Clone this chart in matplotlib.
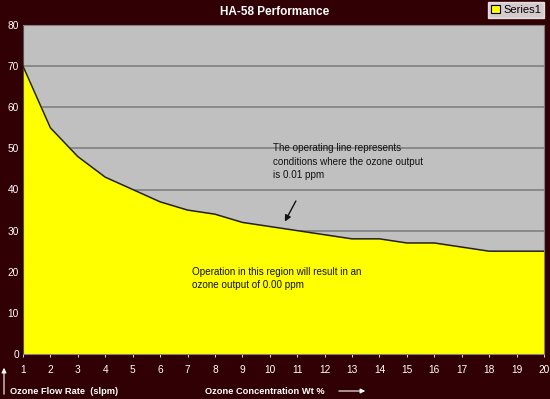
import matplotlib
matplotlib.use("Agg")
from matplotlib import pyplot as plt
from matplotlib.patches import Patch

# data
conc = list(range(1, 21))
flow = [70, 55, 48, 43, 40, 37, 35, 34, 32, 31,
        30, 29, 28, 28, 27, 27, 26, 25, 25, 25]
yticks = [0, 10, 20, 30, 40, 50, 60, 70, 80]

bg = '#310004'
plt.rcParams['font.family'] = ['Liberation Sans', 'DejaVu Sans']

fig = plt.figure(figsize=(5.5, 3.99), dpi=100, facecolor=bg)
ax = fig.add_axes([23/550, 1 - 354/399, (544-23)/550, (354-25)/399])
ax.set_facecolor('#c0c0c0')

ax.fill_between(conc, flow, 0, color='#ffff00', zorder=2)
ax.plot(conc, flow, color='#202020', lw=1.1, zorder=3)

ax.set_xlim(1, 20)
ax.set_ylim(0, 80)
ax.set_xticks(conc)
ax.set_yticks(yticks)
ax.tick_params(colors='white', labelsize=7.3, length=2, width=0.6)
ax.tick_params(axis='y', length=0, pad=3)
ax.tick_params(axis='x', pad=6)
ax.grid(axis='y', color='#808080', lw=1.2, zorder=1)
ax.set_axisbelow(True)
for s in ax.spines.values():
    s.set_color('#808080')
    s.set_linewidth(0.8)
ax.spines['top'].set_linestyle(':')
ax.spines['left'].set_color('#505050')

fig.text(0.5, 1 - 12/399, 'HA-58 Performance', color='white', fontsize=8.5,
         fontweight='bold', ha='center', va='center')

leg = fig.legend(handles=[Patch(facecolor='#ffff00', edgecolor='black', lw=0.8, label='Series1')],
                 loc='upper right', bbox_to_anchor=(544/550, 1 - 2/399), fontsize=8,
                 frameon=True, fancybox=False, handlelength=0.8, handleheight=0.8,
                 handletextpad=0.3, borderpad=0.25, borderaxespad=0)
leg.get_frame().set_facecolor('white')
leg.get_frame().set_edgecolor('white')

ax.text(10.1, 51.2, 'The operating line represents\nconditions where the ozone output\nis 0.01 ppm',
        fontsize=7.1, color='#111111', va='top', ha='left', linespacing=1.4, zorder=4)
ax.annotate('', xy=(10.5, 31.6), xytext=(11.0, 37.8),
            arrowprops=dict(arrowstyle='-|>', color='#111111', lw=1, mutation_scale=9), zorder=4)
ax.text(7.15, 21.2, 'Operation in this region will result in an\nozone output of 0.00 ppm',
        fontsize=7.1, color='#111111', va='top', ha='left', linespacing=1.4, zorder=4)

fig.text(10/550, 1 - 392/399, 'Ozone Flow Rate  (slpm)', color='white', fontsize=6.7,
         fontweight='bold', ha='left', va='center')
fig.text(205/550, 1 - 392/399, 'Ozone Concentration Wt %', color='white', fontsize=6.7,
         fontweight='bold', ha='left', va='center')
fig.patches.append(matplotlib.patches.FancyArrowPatch(
    (4/550, 1 - 397/399), (4/550, 1 - 365/399), transform=fig.transFigure,
    arrowstyle='-|>', color='white', lw=0.8, mutation_scale=7))
fig.patches.append(matplotlib.patches.FancyArrowPatch(
    (336/550, 1 - 391/399), (368/550, 1 - 391/399), transform=fig.transFigure,
    arrowstyle='-|>', color='white', lw=0.8, mutation_scale=7))

fig.savefig('out.png', dpi=100, facecolor=bg)
